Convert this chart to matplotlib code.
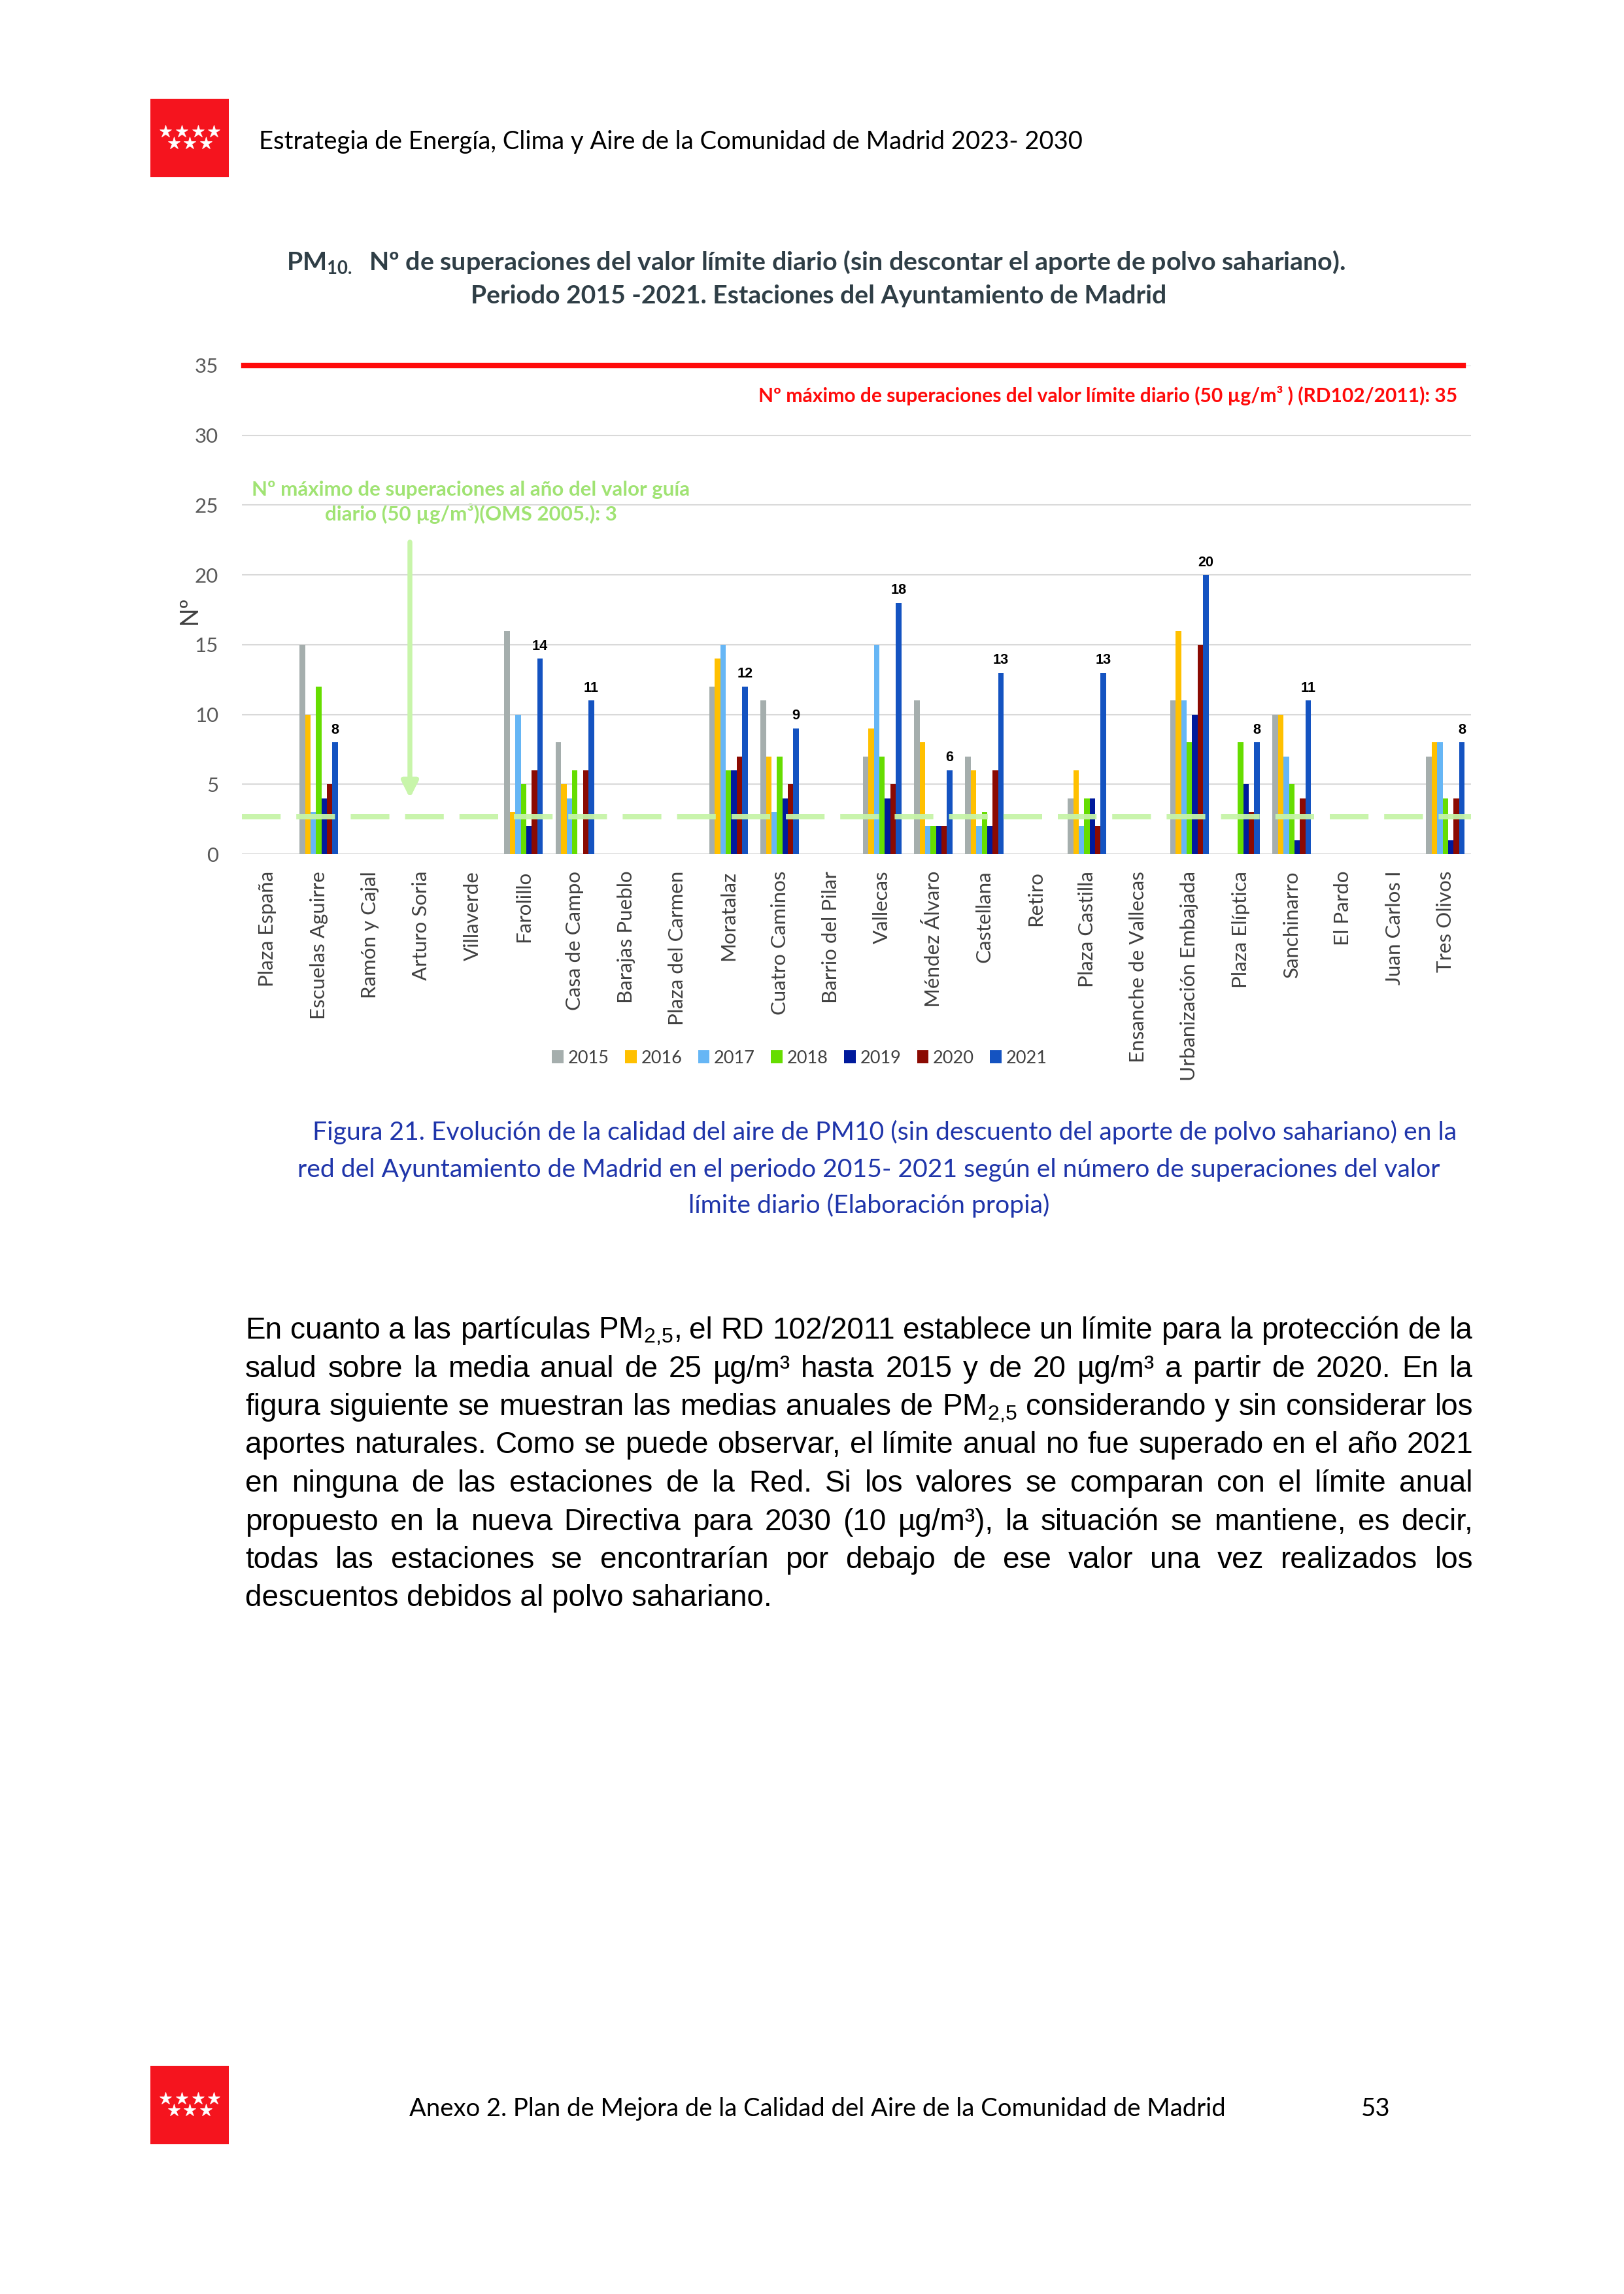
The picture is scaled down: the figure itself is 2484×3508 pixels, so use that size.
import numpy as np
import matplotlib
matplotlib.use("Agg")
import matplotlib.pyplot as plt
from matplotlib.patches import Rectangle

plt.rcParams['font.family'] = ['Lato', 'DejaVu Sans']

W, H = 2484, 3508   # page size in pixels (A4 at 300 dpi)
DPI = 300

# ---------- data ----------
stations = ['Plaza España', 'Escuelas Aguirre', 'Ramón y Cajal', 'Arturo Soria',
            'Villaverde', 'Farolillo', 'Casa de Campo', 'Barajas Pueblo',
            'Plaza del Carmen', 'Moratalaz', 'Cuatro Caminos', 'Barrio del Pilar',
            'Vallecas', 'Méndez Álvaro', 'Castellana', 'Retiro', 'Plaza Castilla',
            'Ensanche de Vallecas', 'Urbanización Embajada', 'Plaza Elíptica',
            'Sanchinarro', 'El Pardo', 'Juan Carlos I', 'Tres Olivos']
years = ['2015', '2016', '2017', '2018', '2019', '2020', '2021']
v2015 = [0, 15, 0, 0, 0, 16, 8, 0, 0, 12, 11, 0, 7, 11, 7, 0, 4, 0, 11, 0, 10, 0, 0, 7]
v2016 = [0, 10, 0, 0, 0, 3, 5, 0, 0, 14, 7, 0, 9, 8, 6, 0, 6, 0, 16, 0, 10, 0, 0, 8]
v2017 = [0, 3, 0, 0, 0, 10, 4, 0, 0, 15, 3, 0, 15, 2, 2, 0, 2, 0, 11, 0, 7, 0, 0, 8]
v2018 = [0, 12, 0, 0, 0, 5, 6, 0, 0, 6, 7, 0, 7, 2, 3, 0, 4, 0, 8, 8, 5, 0, 0, 4]
v2019 = [0, 4, 0, 0, 0, 2, 0, 0, 0, 6, 4, 0, 4, 2, 2, 0, 4, 0, 10, 5, 1, 0, 0, 1]
v2020 = [0, 5, 0, 0, 0, 6, 6, 0, 0, 7, 5, 0, 5, 2, 6, 0, 2, 0, 15, 3, 4, 0, 0, 4]
v2021 = [0, 8, 0, 0, 0, 14, 11, 0, 0, 12, 9, 0, 18, 6, 13, 0, 13, 0, 20, 8, 11, 0, 0, 8]
series = [v2015, v2016, v2017, v2018, v2019, v2020, v2021]

limite_rd = 35      # RD 102/2011
guia_oms = 2.65     # drawn position of the OMS guide line

colors = ['#A5AEAD', '#FFC000', '#66B6F5', '#66DD00', '#001A9C', '#8B0A02', '#1453C1']

header = 'Estrategia de Energía, Clima y Aire de la Comunidad de Madrid 2023- 2030'
footer = 'Anexo 2. Plan de Mejora de la Calidad del Aire de la Comunidad de Madrid'
title1 = 'PM$_{\\mathregular{10.}}$  Nº de superaciones del valor límite diario (sin descontar el aporte de polvo sahariano).'
title2 = 'Periodo 2015 -2021. Estaciones del Ayuntamiento de Madrid'
red_txt = 'Nº máximo de superaciones del valor límite diario (50 µg/m³ ) (RD102/2011): 35'
green_txt = ['Nº máximo de superaciones al año del valor guía',
             'diario (50 µg/m³)(OMS 2005.): 3']
caption = ['Figura 21. Evolución de la calidad del aire de PM10 (sin descuento del aporte de polvo sahariano) en la',
           'red del Ayuntamiento de Madrid en el periodo 2015- 2021 según el número de superaciones del valor',
           'límite diario (Elaboración propia)']
paragraph = [
    'En cuanto a las partículas PM$_{\\mathregular{2{,}5}}$, el RD 102/2011 establece un límite para la protección de la',
    'salud sobre la media anual de 25 µg/m³ hasta 2015 y de 20 µg/m³ a partir de 2020. En la',
    'figura siguiente se muestran las medias anuales de PM$_{\\mathregular{2{,}5}}$ considerando y sin considerar los',
    'aportes naturales. Como se puede observar, el límite anual no fue superado en el año 2021',
    'en ninguna de las estaciones de la Red. Si los valores se comparan con el límite anual',
    'propuesto en la nueva Directiva para 2030 (10 µg/m³), la situación se mantiene, es decir,',
    'todas las estaciones se encontrarían por debajo de ese valor una vez realizados los',
    'descuentos debidos al polvo sahariano.',
]

fig = plt.figure(figsize=(W / DPI, H / DPI), dpi=DPI)

# page layer in pixel coordinates
bg = fig.add_axes([0, 0, 1, 1], zorder=0)
bg.set_xlim(0, W)
bg.set_ylim(H, 0)
bg.axis('off')


def logo(x0, y0):
    bg.add_patch(Rectangle((x0, y0), 120, 120, color='#F5141E', lw=0))
    sx = np.array([23, 48, 73, 97, 36, 60, 85]) + x0
    sy = np.array([50, 50, 50, 50, 68, 68, 68]) + y0
    bg.plot(sx, sy, marker='*', ms=4.6, color='white', ls='none', mec='white', mew=0.2)


logo(230, 151)
logo(230, 3159)

bg.text(396, 228, header, va='baseline', fontsize=9.2, color='black')
bg.text(626, 3236, footer, va='baseline', fontsize=9.2, color='black')
bg.text(2104, 3236, '53', ha='center', va='baseline', fontsize=9.2, color='black')

bg.text(1248, 413, title1, ha='center', va='baseline', fontsize=9.45,
        fontweight='bold', color='#2F3E46')
bg.text(1252, 464, title2, ha='center', va='baseline', fontsize=9.4,
        fontweight='bold', color='#2F3E46')

# ---------- chart ----------
ax = fig.add_axes([370 / W, 1 - 1306 / H, 1880 / W, 747 / H], zorder=1)
ax.set_facecolor('none')
x = np.arange(len(stations))
bw = 0.107
bars = []
for i, vals in enumerate(series):
    b = ax.bar(x + (i - 3) * bw, vals, bw, color=colors[i], label=years[i], zorder=2, lw=0)
    bars.append(b)

for xi, v in zip(x, v2021):
    if v > 0:
        ax.text(xi + 3 * bw, v + 0.63, str(v), ha='center', va='baseline',
                fontsize=5.2, fontweight='bold', family='Liberation Sans', color='black')

ax.set_xlim(-0.5, len(stations) - 0.5)
ax.set_ylim(0, 35)
ax.set_yticks(range(0, 36, 5))
ax.yaxis.grid(True, color='#D9D9D9', lw=0.5)
ax.set_axisbelow(True)
for s in ax.spines.values():
    s.set_visible(False)
ax.tick_params(axis='y', length=0, pad=8.6, labelsize=7.5, labelcolor='#595959')
ax.set_xticks(x)
ax.set_xticklabels(stations, rotation=90, fontsize=7.5, color='#404040')
ax.tick_params(axis='x', length=0, pad=6.2)

# limit lines
ax.axhline(limite_rd, xmin=0.0015, xmax=0.9936, color='#FF0A0A', lw=2.0, clip_on=False, zorder=5)
ax.axhline(guia_oms, color='#C6F4A8', lw=1.92, dashes=(7.4, 3.0), zorder=4, alpha=0.95)

xa = (627 - 370) / 78.333 - 0.5
ax.annotate('', xy=(xa, 4.0), xytext=(xa, 22.35),
            arrowprops=dict(arrowstyle='-|>,head_length=0.5,head_width=0.25',
                            color='#C8F5AA', lw=1.8, shrinkA=0, shrinkB=0,
                            mutation_scale=10))

bg.text(2229, 615, red_txt, ha='right', va='baseline', fontsize=7.2,
        fontweight='bold', color='#FF0A0A')
bg.text(720, 758, green_txt[0], ha='center', va='baseline', fontsize=7.5,
        fontweight='bold', color='#A0E373')
bg.text(720, 796, green_txt[1], ha='center', va='baseline', fontsize=7.5,
        fontweight='bold', color='#A0E373')

bg.text(290, 933, 'Nº', rotation=90, ha='center', va='center', fontsize=9, color='#404040')

fig.legend(bars, years, loc='center', bbox_to_anchor=(1223 / W, 1 - 1618 / H), ncol=7,
           frameon=False, fontsize=6.5, handlelength=0.65, handleheight=0.75,
           handletextpad=0.25, columnspacing=0.9, borderpad=0, labelcolor='#404040')

# ---------- caption ----------
cap_x = [1353, 1329, 1329]
cap_y = [1743, 1800, 1855]
for t, cx, cy in zip(caption, cap_x, cap_y):
    bg.text(cx, cy, t, ha='center', va='baseline', fontsize=9.4, color='#1F35AA')

# ---------- justified paragraph ----------
renderer = fig.canvas.get_renderer()
left, right = 375, 2253
for k, line in enumerate(paragraph):
    y = 2047 + 58.5 * k
    if k == len(paragraph) - 1:
        bg.text(left, y, line, va='baseline', fontsize=11, family='Liberation Sans', color='black')
        continue
    words = line.split(' ')
    objs = [bg.text(0, y, w, va='baseline', fontsize=11, family='Liberation Sans', color='black')
            for w in words]
    widths = [o.get_window_extent(renderer).width for o in objs]
    gap = (right - left - sum(widths)) / (len(words) - 1)
    pos = left
    for o, w in zip(objs, widths):
        o.set_x(pos)
        pos += w + gap

fig.savefig('out.png', dpi=DPI)
